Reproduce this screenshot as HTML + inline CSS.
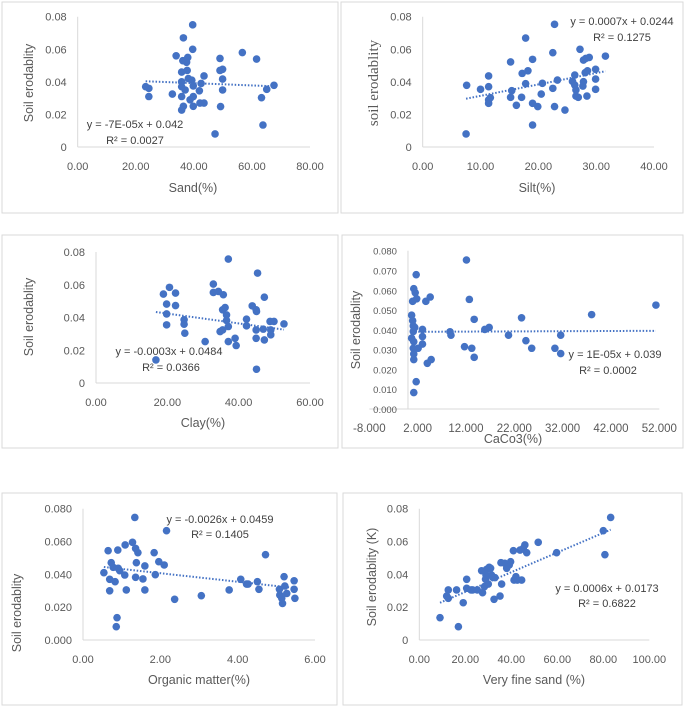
<!DOCTYPE html>
<html><head><meta charset="utf-8"><style>
html,body{margin:0;padding:0;background:#fff;}
svg text{font-family:"Liberation Sans",sans-serif;}
</style></head><body>
<svg id="fig" width="685" height="707" viewBox="0 0 685 707" xmlns="http://www.w3.org/2000/svg"></svg>
<script>
// ---- Panel 1: Sand ----
const sandX=[23.4,24.5,24.5,32.6,33.9,36.4,39.6,39.6,36.2,37.9,37.5,35.8,37.7,35.8,35.8,35.8,36.4,35.8,39.3,39.8,39.8,39.8,42.1,42.5,41.9,43.5,43.5,47.3,49,49,49.9,49.9,49.2,49.9,56.7,61.6,63.3,63.8,65.1,67.6,38.1,38.7,37];
const sandY=[0.037,0.036,0.031,0.0325,0.056,0.067,0.075,0.060,0.053,0.055,0.052,0.046,0.047,0.040,0.037,0.031,0.025,0.0227,0.041,0.0375,0.031,0.025,0.027,0.039,0.0345,0.0436,0.027,0.008,0.0544,0.047,0.0477,0.0417,0.0248,0.035,0.058,0.054,0.0303,0.0135,0.0354,0.0379,0.042,0.029,0.035];
const sandTrend=[-0.00007,0.042];
// ---- Panel 2: Silt ----
const siltX=[7.6,7.5,10,11.4,11.4,11.4,11.4,11.7,15.2,15.4,15.2,16.2,17.1,17.2,18.2,17.8,17.8,19,19,19,19.9,20.5,20.7,22.5,22.5,22.8,22.8,23.3,24.6,25.9,26.3,26.5,26.5,26.9,27.2,27.7,27.8,27.8,28.2,28.8,28.1,28.5,28.4,29.9,29.9,29.9,31.6,26.3];
const siltY=[0.0379,0.008,0.0354,0.0436,0.037,0.0289,0.0268,0.0303,0.0522,0.0346,0.0305,0.0256,0.0305,0.0452,0.0468,0.0669,0.0389,0.0538,0.0268,0.0135,0.0248,0.0325,0.0391,0.0579,0.036,0.0753,0.0248,0.0411,0.0227,0.0403,0.0442,0.035,0.0313,0.0305,0.06,0.0374,0.0401,0.0534,0.0544,0.055,0.0456,0.0468,0.0313,0.0477,0.0417,0.0354,0.0558,0.038];
const siltTrend=[0.0007,0.0244];
// ---- Panel 3: Clay ----
const clayX=[16.8,18.9,19.8,19.8,19.8,20.6,22.3,22.3,24.7,24.7,24.9,30.6,32.9,32.9,34.3,35.7,35.5,36.2,34.8,35.5,36.6,36.6,37.1,37.1,37.1,39,39.3,42.2,42.2,43.8,44.9,44.9,44.9,45,45.3,47.2,46.9,47.2,48.8,49,49,49.9,52.7,45];
const clayY=[0.0141,0.0543,0.0482,0.0422,0.0355,0.0584,0.0549,0.0473,0.0386,0.0359,0.0304,0.0253,0.0604,0.0553,0.0559,0.0539,0.0447,0.0461,0.0314,0.0324,0.0416,0.0382,0.0345,0.0757,0.0253,0.0273,0.0229,0.039,0.0349,0.0471,0.0447,0.0324,0.0273,0.0084,0.0671,0.0524,0.0329,0.0263,0.0376,0.0324,0.0294,0.0376,0.0361,0.0437];
const clayTrend=[-0.0003,0.0484];
// ---- Panel 4: CaCO3 ----
const cacoX=[0.76,0.97,1.1,1.1,0.76,1.2,1.1,1.2,1.2,1.2,1.7,1.7,1.2,1.5,0.97,1.8,1.4,2.1,3,3,3,3.7,4.6,4,4.8,8.7,8.9,12.1,11.7,12.7,13.2,13.7,13.7,15.9,16.8,20.8,23.5,24.4,25.6,30.4,31.6,31.6,38,51.3];
const cacoY=[0.0474,0.0446,0.042,0.0392,0.0358,0.034,0.0307,0.0278,0.025,0.0083,0.0138,0.0679,0.0608,0.0588,0.0544,0.0557,0.0412,0.0307,0.0402,0.0366,0.0328,0.0544,0.0566,0.0231,0.025,0.039,0.0373,0.0753,0.0315,0.0554,0.0307,0.0261,0.0453,0.0402,0.0412,0.0373,0.0461,0.0345,0.0307,0.0307,0.0373,0.028,0.0477,0.0525];
const cacoTrend=[0.00001,0.039];
// ---- Panel 5: Organic matter ----
const omX=[0.54,0.65,0.69,0.69,0.73,0.78,0.83,0.86,0.88,0.9,0.91,0.95,1.08,1.09,1.12,1.28,1.34,1.36,1.38,1.36,1.42,1.55,1.6,1.6,1.84,1.87,1.96,2.1,2.16,2.37,3.06,3.78,4.08,4.23,4.27,4.51,4.55,4.72,5.08,5.09,5.14,5.16,5.2,5.22,5.27,5.46,5.46,5.48];
const omY=[0.041,0.0544,0.037,0.030,0.0471,0.0443,0.0355,0.0081,0.0136,0.0548,0.0437,0.0422,0.0396,0.0579,0.0305,0.0595,0.0747,0.0558,0.0471,0.0382,0.0532,0.0372,0.0451,0.0305,0.0532,0.0398,0.0477,0.0457,0.0666,0.0248,0.027,0.0305,0.037,0.0341,0.0341,0.0355,0.0309,0.052,0.0309,0.0274,0.0254,0.0223,0.0386,0.0329,0.0284,0.0361,0.0309,0.0254];
const omTrend=[-0.0026,0.0459];
// ---- Panel 6: Very fine sand ----
const vfsX=[9,11.9,12.6,12.6,16.2,17,19.1,20.6,20.6,22.5,23.2,25.2,27.1,27.5,28.3,28.8,29,29.3,30,30.4,31,31.4,31.9,32.5,32.9,35.1,35.8,35.5,37.2,38,39.1,39.7,40.9,41.2,42,42.6,43.8,44.5,45.2,45.9,46.7,51.7,59.7,80,80.7,83.2];
const vfsY=[0.0136,0.0268,0.0305,0.0254,0.0305,0.0081,0.0227,0.037,0.0315,0.0305,0.0305,0.0305,0.0422,0.0288,0.0325,0.037,0.0396,0.0431,0.0341,0.0443,0.0437,0.0396,0.0382,0.0248,0.038,0.0268,0.0341,0.0471,0.0467,0.0437,0.0457,0.0477,0.0544,0.0365,0.0386,0.0365,0.0548,0.0365,0.0558,0.0579,0.0532,0.0595,0.0532,0.0666,0.052,0.0747];
const vfsTrend=[0.0006,0.0173];

const NS="http://www.w3.org/2000/svg";
const svg=document.getElementById('fig');
function mk(tag,attrs,parent,txt){const e=document.createElementNS(NS,tag);for(const k in attrs)e.setAttribute(k,attrs[k]);if(txt!==undefined)e.textContent=txt;(parent||svg).appendChild(e);return e;}

function panel(c){
  const g=mk('g',{});
  
  
  const fr=mk('rect',{x:c.frame[0],y:c.frame[1],width:c.frame[2],height:c.frame[3],fill:'none',stroke:'#d9d9d9','stroke-width':1},g);
  
  
  const sx=v=>c.px0+(v-c.xmin)/(c.xmax-c.xmin)*(c.px1-c.px0);
  const sy=v=>c.py0-(v-c.ymin)/(c.ymax-c.ymin)*(c.py0-c.py1);
  const ax0=sx(0);
  const xa=mk('line',{x1:c.px0,y1:c.py0,x2:c.px1,y2:c.py0,stroke:'#d9d9d9','stroke-width':1},g);
  
  
  const ya=mk('line',{x1:ax0,y1:c.py0,x2:ax0,y2:c.py1,stroke:'#d9d9d9','stroke-width':1},g);
  
  
  for(let i=0;i<c.yticks.length;i++){
    const t=mk('text',{x:ax0-11,y:sy(c.yticks[i])+4,'text-anchor':'end','font-size':c.tfs||11,fill:'#595959'},g,c.ylabels[i]);
    
    
  }
  for(let i=0;i<c.xticks.length;i++){
    const t=mk('text',{x:sx(c.xticks[i]),y:c.py0+23,'text-anchor':'middle','font-size':c.xfs||11,fill:'#595959'},g,c.xlabels[i]);
    
    
  }
  const xt=mk('text',{x:c.xt[0],y:c.xt[1],'text-anchor':'middle','font-size':12.5,fill:'#595959'},g,c.xtitle);
  
  
  const yt=mk('text',{x:c.yt[0],y:c.yt[1],'text-anchor':'middle','font-size':c.ytfs||12.5,fill:'#595959',transform:`rotate(-90 ${c.yt[0]} ${c.yt[1]})`},g,c.ytitle);
  if(c.serif)yt.setAttribute('style','font-family:"Liberation Serif",serif');
  
  
  for(let i=0;i<c.X.length;i++){
    const p=mk('circle',{cx:sx(c.X[i]),cy:sy(c.Y[i]),r:3.8,fill:'#4472c4'},g);
    
    
  }
  const xmn=Math.min(...c.X),xmx=Math.max(...c.X);
  const tl=mk('line',{x1:sx(xmn),y1:sy(c.T[0]*xmn+c.T[1]),x2:sx(xmx),y2:sy(c.T[0]*xmx+c.T[1]),stroke:'#4472c4','stroke-width':2,'stroke-dasharray':'1.5 1.8'},g);
  
  
  const e1=mk('text',{x:c.eq[0],y:c.eq[1],'text-anchor':'middle','font-size':11,fill:'#404040'},g,c.eqText);
  
  
  const e2=mk('text',{x:c.r2[0],y:c.r2[1],'text-anchor':'middle','font-size':11,fill:'#404040'},g,c.r2Text);
  
  
}
const y08=[0,0.02,0.04,0.06,0.08], y08l=['0','0.02','0.04','0.06','0.08'];
panel({name:'sand-chart',frame:[2,2,336,211],px0:77.7,px1:310,xmin:0,xmax:80,py0:147,py1:16.7,ymin:0,ymax:0.08,
 yticks:y08,ylabels:y08l,xticks:[0,20,40,60,80],xlabels:['0.00','20.00','40.00','60.00','80.00'],
 xtitle:'Sand(%)',xt:[193,192],ytitle:'Soil erodablity',yt:[33,83],X:sandX,Y:sandY,T:sandTrend,
 eq:[135,128],eqText:'y = -7E-05x + 0.042',r2:[135,144],r2Text:'R² = 0.0027'});
panel({name:'silt-chart',frame:[341,2,342,211],px0:422.7,px1:654,xmin:0,xmax:40,py0:147,py1:16.7,ymin:0,ymax:0.08,
 yticks:y08,ylabels:y08l,xticks:[0,10,20,30,40],xlabels:['0.00','10.00','20.00','30.00','40.00'],
 xtitle:'Silt(%)',xt:[537,192],ytitle:'soil erodablity',yt:[378,83],ytfs:15,serif:true,X:siltX,Y:siltY,T:siltTrend,
 eq:[622,25],eqText:'y = 0.0007x + 0.0244',r2:[622,41],r2Text:'R² = 0.1275'});
panel({name:'clay-chart',frame:[2,235,336,213],px0:96,px1:310,xmin:0,xmax:60,py0:383,py1:252,ymin:0,ymax:0.08,
 yticks:y08,ylabels:y08l,xticks:[0,20,40,60],xlabels:['0.00','20.00','40.00','60.00'],
 xtitle:'Clay(%)',xt:[203,427],ytitle:'Soil erodablity',yt:[33,317],X:clayX,Y:clayY,T:clayTrend,
 eq:[169,355],eqText:'y = -0.0003x + 0.0484',r2:[171,371],r2Text:'R² = 0.0366'});
panel({name:'caco3-chart',frame:[342,235,341,213],px0:369.3,px1:659.3,xmin:-8,xmax:52,py0:409,py1:250.7,ymin:0,ymax:0.08,
 yticks:[0,0.01,0.02,0.03,0.04,0.05,0.06,0.07,0.08],ylabels:['0.000','0.010','0.020','0.030','0.040','0.050','0.060','0.070','0.080'],tfs:9.5,xfs:11.5,
 xticks:[-8,2,12,22,32,42,52],xlabels:['-8.000','2.000','12.000','22.000','32.000','42.000','52.000'],
 xtitle:'CaCo3(%)',xt:[513,443],ytitle:'Soil erodablity',yt:[360,330],X:cacoX,Y:cacoY,T:cacoTrend,
 eq:[615,358],eqText:'y = 1E-05x + 0.039',r2:[608,374],r2Text:'R² = 0.0002'});
panel({name:'organic-matter-chart',frame:[2,493,335,212],px0:83,px1:315,xmin:0,xmax:6,py0:640,py1:508.7,ymin:0,ymax:0.08,
 yticks:y08,ylabels:['0.000','0.020','0.040','0.060','0.080'],xticks:[0,2,4,6],xlabels:['0.00','2.00','4.00','6.00'],
 xtitle:'Organic matter(%)',xt:[199,684],ytitle:'Soil erodablity',yt:[21,613],X:omX,Y:omY,T:omTrend,
 eq:[220,523],eqText:'y = -0.0026x + 0.0459',r2:[220,538],r2Text:'R² = 0.1405'});
panel({name:'very-fine-sand-chart',frame:[343,493,339,212],px0:419.3,px1:649.3,xmin:0,xmax:100,py0:640,py1:508.7,ymin:0,ymax:0.08,
 yticks:y08,ylabels:y08l,xticks:[0,20,40,60,80,100],xlabels:['0.00','20.00','40.00','60.00','80.00','100.00'],
 xtitle:'Very fine sand (%)',xt:[534,684],ytitle:'Soil erodablity (K)',yt:[376,577],X:vfsX,Y:vfsY,T:vfsTrend,
 eq:[607,592],eqText:'y = 0.0006x + 0.0173',r2:[607,607],r2Text:'R² = 0.6822'});
</script>
</body></html>
